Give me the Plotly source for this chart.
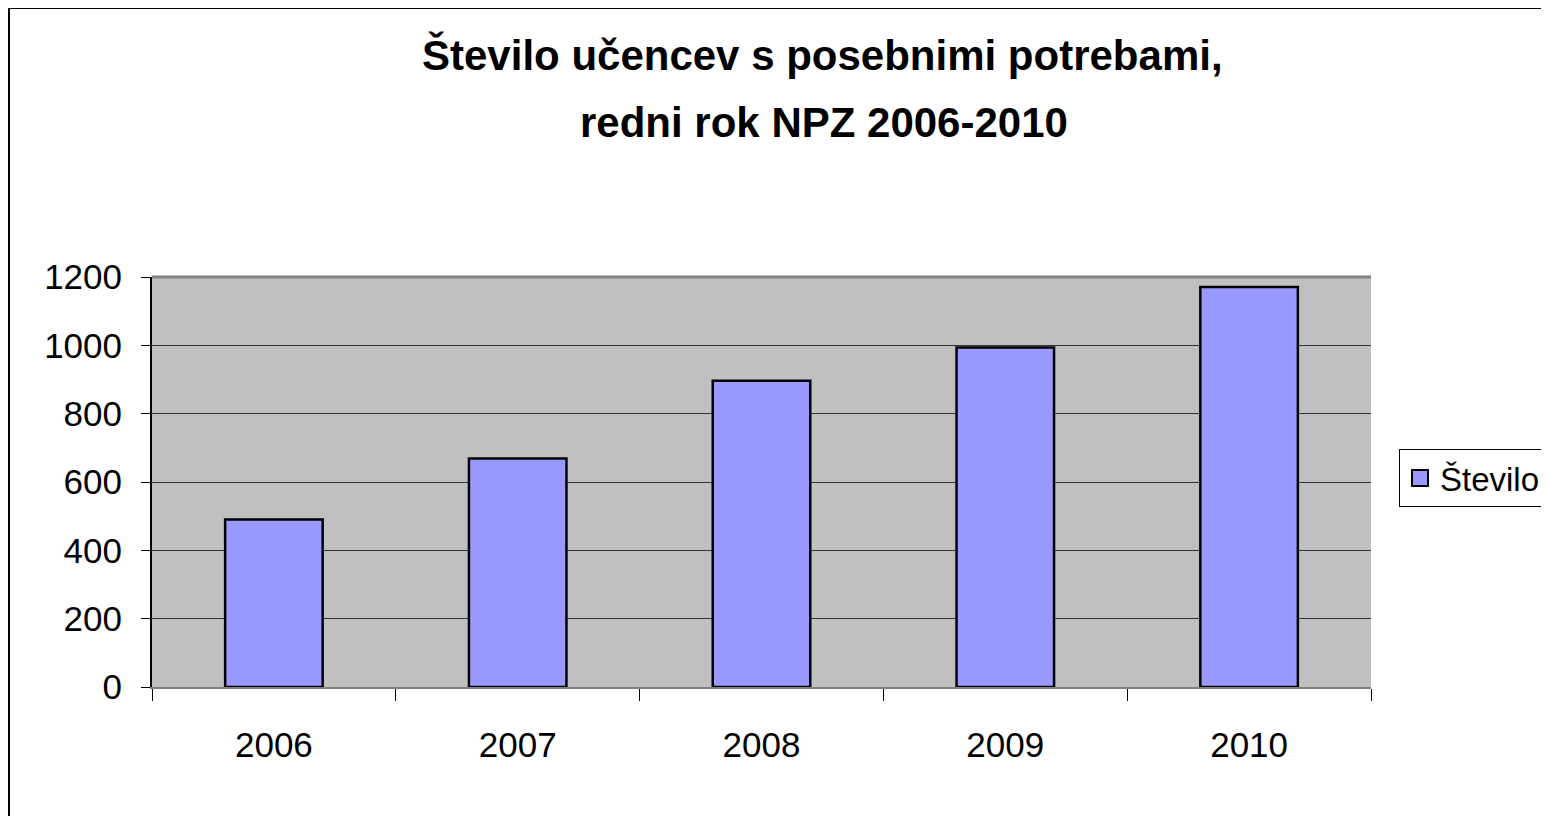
import plotly.graph_objects as go

years = ["2006", "2007", "2008", "2009", "2010"]
stevilo = [490, 669, 896, 994, 1171]
series_name = "Število"
title_lines = ["Število učencev s posebnimi potrebami,", "redni rok NPZ 2006-2010"]

FONT = "Liberation Sans, Arial, sans-serif"

OFF = 8  # page body margin
W, H = 1549 - OFF, 816 - OFF
L, R, T, B = 152 - OFF, 1371 - OFF, 277 - OFF, 687 - OFF
pw, ph = R - L, B - T

def px(x):
    return (x - OFF - L) / pw

def py(y):
    return (B - (y - OFF)) / ph

fig = go.Figure()
fig.add_trace(go.Bar(
    x=years, y=stevilo, name=series_name,
    marker=dict(color="#9999FF", line=dict(color="black", width=2.5)),
    showlegend=False,
))
# legend entry with a larger square swatch
fig.add_trace(go.Scatter(
    x=[None], y=[None], mode="markers", name=series_name,
    marker=dict(symbol="square", size=16, color="#9999FF", line=dict(color="black", width=2)),
    showlegend=True, hoverinfo="skip",
))

annotations = [
    dict(text="<b>" + title_lines[0] + "</b>", xref="paper", yref="paper",
         x=px(822), y=py(55), xanchor="center", yanchor="middle", showarrow=False,
         font=dict(family=FONT, size=42, color="black")),
    dict(text="<b>" + title_lines[1] + "</b>", xref="paper", yref="paper",
         x=px(824), y=py(122), xanchor="center", yanchor="middle", showarrow=False,
         font=dict(family=FONT, size=42, color="black")),
]

fig.update_layout(
    width=W, height=H,
    margin=dict(l=L, r=W - R, t=T, b=H - B, autoexpand=False),
    paper_bgcolor="white",
    plot_bgcolor="#C0C0C0",
    bargap=0.6,
    font=dict(family=FONT, size=35, color="black"),
    annotations=annotations,
    showlegend=True,
    legend=dict(
        x=px(1399), y=py(449), xanchor="left", yanchor="top",
        bordercolor="black", borderwidth=1, bgcolor="white",
        font=dict(family=FONT, size=33, color="black"),
        itemsizing="trace", itemwidth=30,
        tracegroupgap=0,
    ),
    xaxis=dict(
        tickson="boundaries", ticks="outside", ticklen=12, tickcolor="black", tickwidth=1,
        showline=True, linecolor="#808080", linewidth=2, mirror=False,
        showgrid=False,
        tickfont=dict(family=FONT, size=35),
        ticklabelstandoff=26,
    ),
    yaxis=dict(
        range=[0, 1200], dtick=200, ticks="outside", ticklen=9, tickcolor="black", tickwidth=1,
        showline=True, linecolor="black", linewidth=2,
        showgrid=True, gridcolor="#333333", gridwidth=1,
        tickfont=dict(family=FONT, size=35),
        ticklabelstandoff=12,
        zeroline=False,
    ),
    shapes=[
        dict(type="rect", xref="paper", yref="paper",
             x0=px(9), x1=px(1600), y0=py(8), y1=py(900),
             line=dict(color="black", width=2), fillcolor="rgba(0,0,0,0)", layer="below"),
        dict(type="line", xref="paper", yref="paper",
             x0=0, x1=1, y0=1, y1=1, line=dict(color="#808080", width=3)),
    ],
)

fig.write_html("out.html")
